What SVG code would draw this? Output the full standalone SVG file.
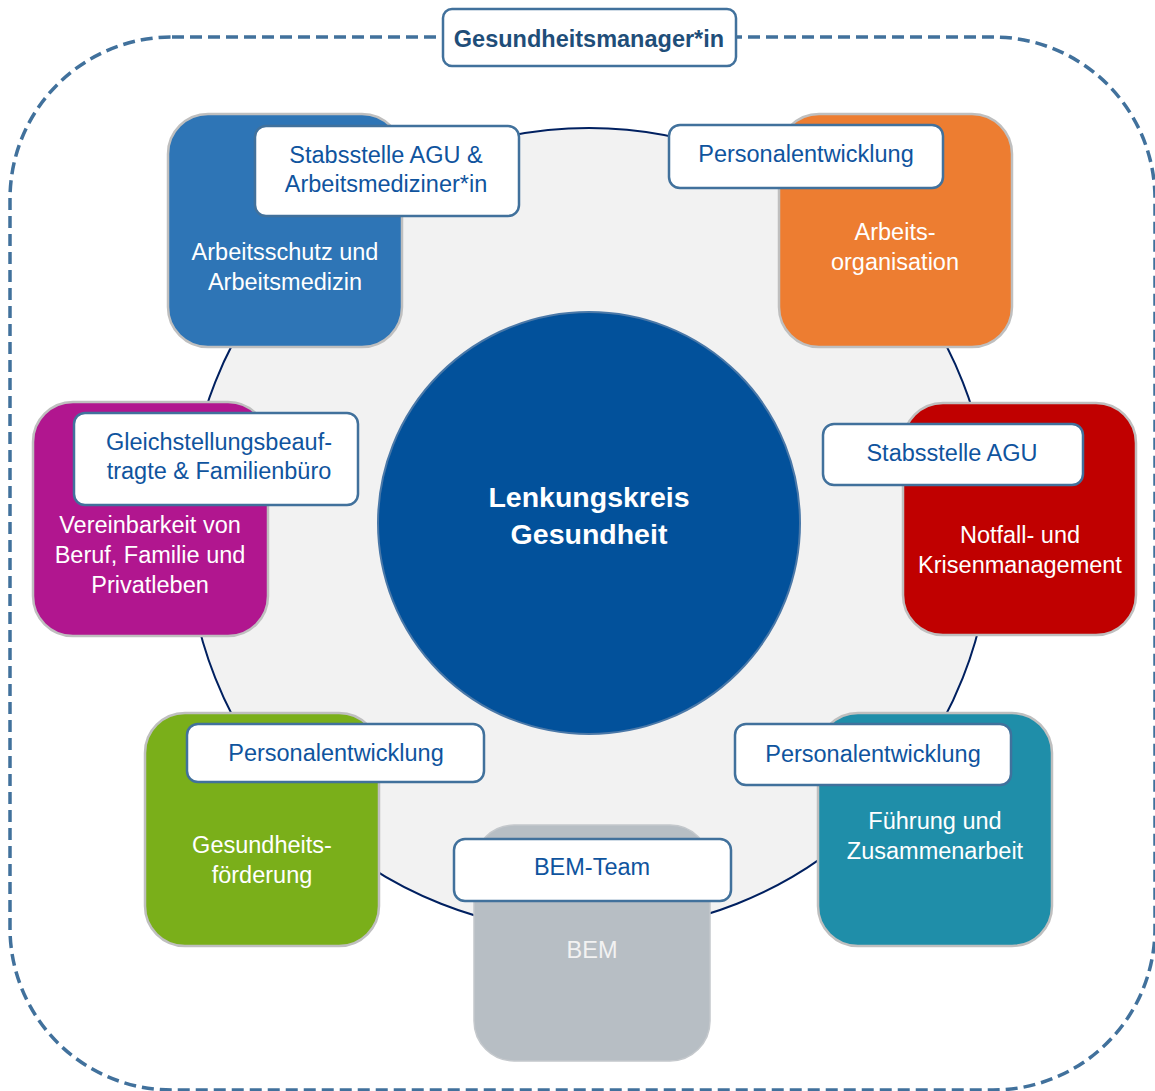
<svg xmlns="http://www.w3.org/2000/svg" width="1155" height="1091" viewBox="0 0 1155 1091">
<style>
text{font-family:"Liberation Sans",Arial,sans-serif;text-anchor:middle}
.sq{stroke:#bfbfbf;stroke-width:2.5}
.lb{fill:#ffffff;stroke:#41719c;stroke-width:2.5}
.lt{fill:#0f549e;font-size:23.5px}
.st{fill:#ffffff;font-size:23.5px}
</style>
<rect width="1155" height="1091" fill="#ffffff"/>
<g id="frame">
<rect x="10" y="37" width="1145" height="1053" rx="162" ry="162" fill="none" stroke="#41719c" stroke-width="3.5" stroke-dasharray="12 6"/>
</g>
<g id="ring">
<circle cx="589" cy="530" r="402" fill="#f2f2f2" stroke="#002060" stroke-width="2"/>
</g>
<g id="connectors"></g>
<g id="node-arbeitsschutz">
<rect class="sq" x="168" y="114" width="234" height="233" rx="40" fill="#2e75b6"/>
<text class="st" x="285" y="260">Arbeitsschutz und</text>
<text class="st" x="285" y="290">Arbeitsmedizin</text>
</g>
<g id="node-arbeitsorganisation">
<rect class="sq" x="779" y="114" width="233" height="233" rx="40" fill="#ed7d31"/>
<text class="st" x="895" y="240">Arbeits-</text>
<text class="st" x="895" y="270">organisation</text>
</g>
<g id="node-vereinbarkeit">
<rect class="sq" x="33" y="402" width="235" height="234" rx="40" fill="#b1168f"/>
<text class="st" x="150" y="533">Vereinbarkeit von</text>
<text class="st" x="150" y="563">Beruf, Familie und</text>
<text class="st" x="150" y="593">Privatleben</text>
</g>
<g id="node-notfall">
<rect class="sq" x="903" y="403" width="233" height="232" rx="40" fill="#c00000"/>
<text class="st" x="1020" y="543">Notfall- und</text>
<text class="st" x="1020" y="573">Krisenmanagement</text>
</g>
<g id="node-gesundheitsfoerderung">
<rect class="sq" x="145" y="713" width="234" height="233" rx="40" fill="#7aaf1a"/>
<text class="st" x="262" y="853">Gesundheits-</text>
<text class="st" x="262" y="883">förderung</text>
</g>
<g id="node-fuehrung">
<rect class="sq" x="818" y="713" width="234" height="233" rx="40" fill="#1f8ea9"/>
<text class="st" x="935" y="829">Führung und</text>
<text class="st" x="935" y="859">Zusammenarbeit</text>
</g>
<g id="node-bem">
<rect x="474" y="825" width="236" height="236" rx="40" fill="#b7bec4" stroke="#c4c8cc" stroke-width="1.5"/>
<text class="st" x="592" y="958" style="fill:#f2f2f2">BEM</text>
</g>
<g id="node-lenkungskreis">
<circle cx="589" cy="523" r="211" fill="#02519b" stroke="#4a78a8" stroke-width="2"/>
<text x="589" y="507" style="fill:#ffffff;font-size:28.5px;font-weight:bold">Lenkungskreis</text>
<text x="589" y="544" style="fill:#ffffff;font-size:28.5px;font-weight:bold">Gesundheit</text>
</g>
<g id="label-stabsstelle-agu-arbeitsmedizin">
<rect class="lb" x="255" y="126" width="264" height="90" rx="11"/>
<text class="lt" x="386" y="163">Stabsstelle AGU &amp;</text>
<text class="lt" x="386" y="192">Arbeitsmediziner*in</text>
</g>
<g id="label-personalentwicklung-1">
<rect class="lb" x="669" y="125" width="274" height="63" rx="11"/>
<text class="lt" x="806" y="162">Personalentwicklung</text>
</g>
<g id="label-gleichstellung">
<rect class="lb" x="74" y="413" width="284" height="92" rx="11"/>
<text class="lt" x="219" y="450">Gleichstellungsbeauf-</text>
<text class="lt" x="219" y="479">tragte &amp; Familienbüro</text>
</g>
<g id="label-stabsstelle-agu">
<rect class="lb" x="823" y="424" width="260" height="61" rx="11"/>
<text class="lt" x="952" y="461">Stabsstelle AGU</text>
</g>
<g id="label-personalentwicklung-2">
<rect class="lb" x="187" y="724" width="297" height="58" rx="11"/>
<text class="lt" x="336" y="761">Personalentwicklung</text>
</g>
<g id="label-personalentwicklung-3">
<rect class="lb" x="735" y="724" width="276" height="61" rx="11"/>
<text class="lt" x="873" y="762">Personalentwicklung</text>
</g>
<g id="label-bem-team">
<rect class="lb" x="454" y="839" width="277" height="62" rx="11"/>
<text class="lt" x="592" y="875">BEM-Team</text>
</g>
<g id="label-gesundheitsmanager">
<rect class="lb" x="443" y="9" width="293" height="57" rx="9"/>
<text x="589" y="47" style="fill:#1f4e79;font-size:23.5px;font-weight:bold">Gesundheitsmanager*in</text>
</g>
</svg>
